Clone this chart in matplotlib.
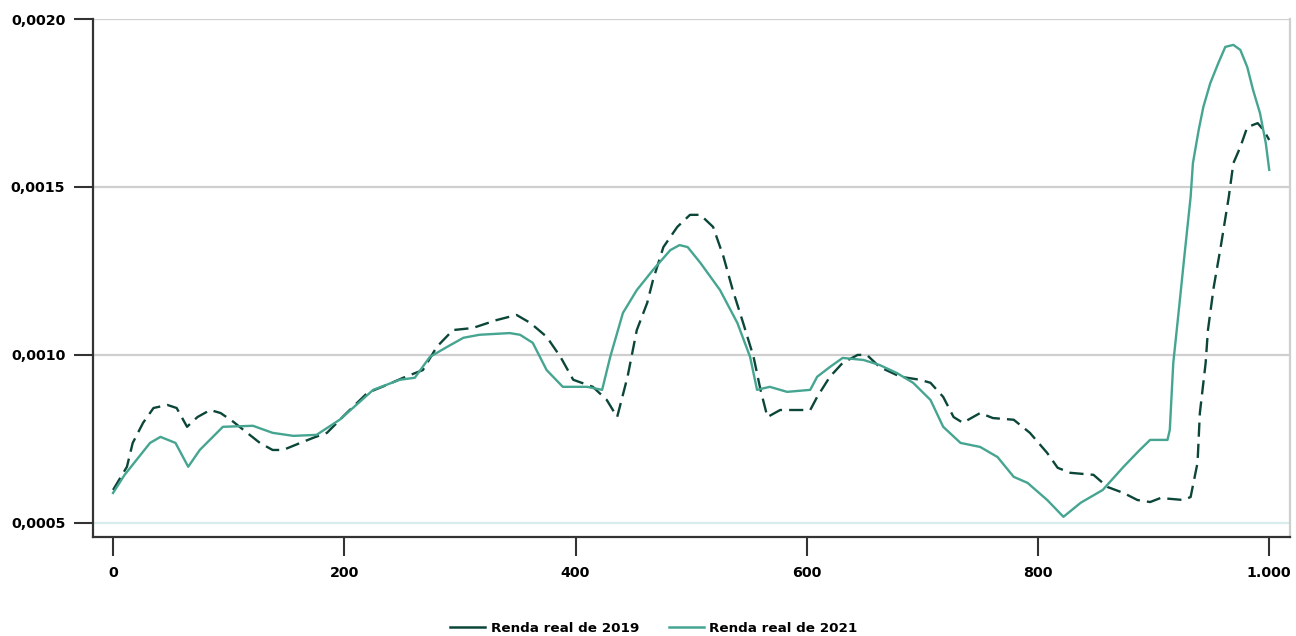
import numpy as np
import matplotlib
matplotlib.use('Agg')
import matplotlib.pyplot as plt
from matplotlib.ticker import FuncFormatter
from matplotlib.lines import Line2D

# Renda real de 2019 (dashed)
x_2019 = [0, 12, 17, 26, 35, 47, 55, 64, 73, 84, 93, 104, 116, 127, 138, 147, 162, 173, 185,
          202, 220, 237, 251, 268, 280, 294, 311, 332, 349, 361, 375, 387, 398, 415, 427, 436,
          445, 453, 462, 467, 476, 488, 499, 508, 519, 528, 536, 545, 554, 560, 566, 577, 594,
          603, 609, 620, 631, 644, 652, 663, 681, 698, 707, 718, 727, 735, 750, 761, 779, 793,
          808, 817, 828, 848, 860, 874, 886, 897, 906, 926, 932, 938, 940, 945, 947, 952, 958,
          965, 969, 975, 981, 990, 995, 1000]
y_2019 = [5.98, 6.67, 7.38, 7.98, 8.42, 8.51, 8.42, 7.86, 8.15, 8.36, 8.27, 8.01, 7.68, 7.38,
          7.17, 7.17, 7.38, 7.53, 7.68, 8.27, 8.87, 9.11, 9.32, 9.55, 10.24, 10.74, 10.80, 11.04,
          11.19, 10.95, 10.54, 9.94, 9.26, 9.05, 8.66, 8.15, 9.35, 10.74, 11.55, 12.23, 13.21,
          13.81, 14.17, 14.17, 13.81, 12.92, 11.93, 10.95, 9.94, 8.96, 8.15, 8.36, 8.36, 8.36,
          8.75, 9.35, 9.76, 10.00, 10.00, 9.64, 9.35, 9.26, 9.17, 8.75, 8.15, 7.98, 8.27, 8.12,
          8.07, 7.68, 7.08, 6.64, 6.49, 6.43, 6.07, 5.89, 5.68, 5.62, 5.74, 5.68, 5.77, 6.79,
          8.27, 9.76, 10.74, 12.02, 13.21, 14.70, 15.71, 16.19, 16.78, 16.90, 16.70, 16.40]

# Renda real de 2021 (solid)
x_2021 = [0, 10, 32, 41, 54, 65, 75, 95, 121, 138, 156, 176, 196, 225, 248, 261, 274, 289,
          303, 317, 343, 352, 363, 375, 389, 410, 423, 430, 441, 453, 467, 482, 490, 497, 508,
          525, 540, 551, 557, 568, 583, 603, 609, 620, 631, 649, 663, 678, 692, 707, 718, 733,
          750, 765, 779, 791, 808, 822, 837, 856, 874, 888, 897, 912, 914, 917, 920, 923, 926,
          929, 932, 934, 939, 943, 949, 956, 962, 969, 975, 981, 986, 992, 997, 1000]
y_2021 = [5.89, 6.43, 7.38, 7.56, 7.38, 6.67, 7.17, 7.86, 7.89, 7.68, 7.59, 7.62, 8.07, 8.96,
          9.26, 9.32, 9.94, 10.24, 10.51, 10.60, 10.65, 10.60, 10.36, 9.55, 9.05, 9.05, 8.96,
          9.94, 11.25, 11.93, 12.53, 13.12, 13.27, 13.21, 12.74, 11.93, 10.95, 9.94, 8.96, 9.05,
          8.90, 8.96, 9.35, 9.64, 9.91, 9.85, 9.70, 9.46, 9.17, 8.66, 7.86, 7.38, 7.26, 6.96,
          6.37, 6.19, 5.68, 5.18, 5.60, 5.98, 6.67, 7.17, 7.47, 7.47, 7.77, 9.76, 10.74, 11.73,
          12.74, 13.72, 14.70, 15.71, 16.70, 17.38, 18.09, 18.69, 19.17, 19.23, 19.08, 18.57,
          17.89, 17.20, 16.31, 15.51]

x_ticks = [0, 200, 400, 600, 800, 1000]
x_labels = ['0', '200', '400', '600', '800', '1.000']
y_ticks = [0.0005, 0.0010, 0.0015, 0.0020]

c2019 = '#0c4639'
c2021 = '#45a591'

plt.rcParams['font.family'] = ['DejaVu Sans']

fig = plt.figure(figsize=(12.96, 6.36), dpi=100)
ax = fig.add_axes([0.0718, 0.1557, 0.9236, 0.8144])

ax.plot(x_2019, np.array(y_2019) * 1e-4, color=c2019, lw=1.7, linestyle=(0, (6, 3)), zorder=3)
ax.plot(x_2021, np.array(y_2021) * 1e-4, color=c2021, lw=1.7, zorder=3)

for yv in y_ticks:
    col = '#d9ecec' if yv == 0.0005 else '#cfcfcf'
    ax.axhline(yv, color=col, lw=1.6, zorder=1)

ax.set_xlim(-17.3, 1018)
ax.set_ylim(0.000458, 0.0020)
ax.set_xticks(x_ticks)
ax.set_xticklabels(x_labels)
ax.set_yticks(y_ticks)
ax.yaxis.set_major_formatter(FuncFormatter(lambda v, p: ('%.4f' % v).replace('.', ',')))

for s in ['left', 'bottom']:
    ax.spines[s].set_color('#333333')
    ax.spines[s].set_linewidth(1.6)
ax.spines['top'].set_visible(False)
ax.spines['right'].set_color('#cfcfcf')
ax.spines['right'].set_linewidth(1.6)

ax.tick_params(axis='both', length=14, width=1.5, color='#333333', labelsize=10.3)
ax.tick_params(axis='y', pad=6)
ax.tick_params(axis='x', pad=7)
for lab in ax.get_xticklabels() + ax.get_yticklabels():
    lab.set_fontweight('bold')

handles = [Line2D([], [], color=c2019, lw=1.8), Line2D([], [], color=c2021, lw=1.8)]
fig.legend(handles, ['Renda real de 2019', 'Renda real de 2021'], loc='center',
           bbox_to_anchor=(654 / 1296, 1 - 628 / 636), ncol=2, frameon=False,
           handlelength=2.6, handletextpad=0.4, columnspacing=2.2,
           prop={'weight': 'bold', 'size': 9.7})

fig.savefig('out.png', dpi=100)
